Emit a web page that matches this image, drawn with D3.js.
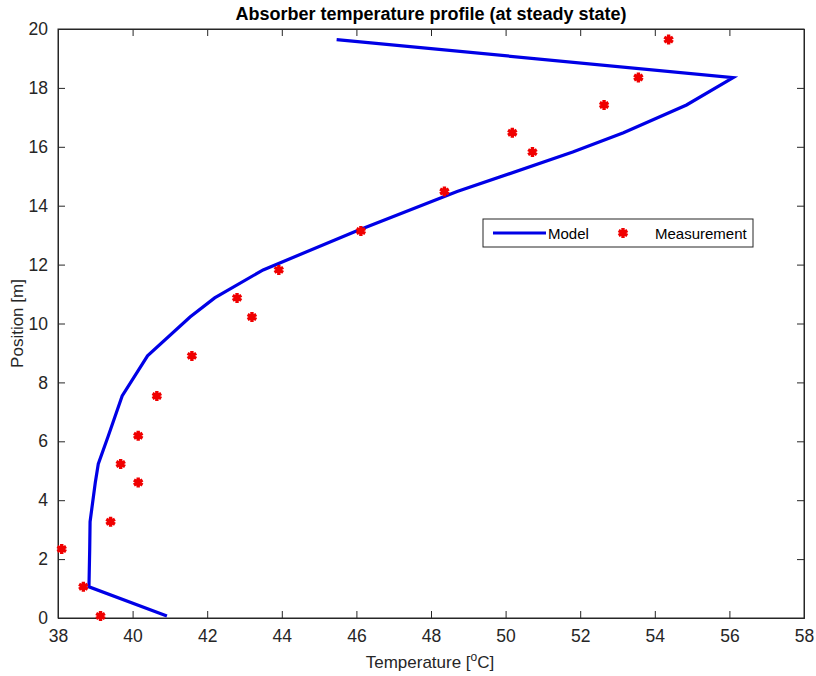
<!DOCTYPE html>
<html><head><meta charset="utf-8">
<script src="https://cdn.jsdelivr.net/npm/d3@7"></script>
<style>body{margin:0;background:#fff}svg{display:block}text{font-family:Arial,"Liberation Sans",Helvetica,sans-serif}</style>
</head><body>
<svg id="c" width="816" height="676"></svg>
<script>
const positions = [0.07,1.06,2.34,3.27,4.6,5.23,6.19,7.54,8.9,10.22,10.87,11.82,13.14,14.48,15.82,16.48,17.42,18.35,19.64];
const modelTemp = [40.92,38.83,38.85,38.86,39.0,39.08,39.35,39.72,40.4,41.54,42.2,43.5,46.0,48.7,51.8,53.16,54.85,56.1,45.47];
const measTemp = [39.14,38.68,38.1,39.41,40.15,39.68,40.15,40.65,41.59,43.2,42.8,43.92,46.12,48.36,50.72,50.18,52.64,53.56,54.37];
const xTicks = [38,40,42,44,46,48,50,52,54,56,58];
const yTicks = [0,2,4,6,8,10,12,14,16,18,20];
const seriesNames = ["Model","Measurement"];

const svg = d3.select("#c");
const L=58,R=804,T=29,B=618;
const x = d3.scaleLinear().domain([38,58]).range([L,R]);
const y = d3.scaleLinear().domain([0,20]).range([B,T]);
const axisCol="#262626";

svg.append("rect").attr("x",L).attr("y",T).attr("width",R-L).attr("height",B-T)
  .attr("fill","none").attr("stroke",axisCol).attr("stroke-width",1);

const ax = svg.append("g").attr("transform",`translate(0,${B})`)
  .call(d3.axisBottom(x).tickValues(xTicks).tickSize(-7).tickPadding(12).tickFormat(d3.format("d")));
const ay = svg.append("g").attr("transform",`translate(${L},0)`)
  .call(d3.axisLeft(y).tickValues(yTicks).tickSize(-7).tickPadding(10).tickFormat(d3.format("d")));
const axT = svg.append("g").attr("transform",`translate(0,${T})`)
  .call(d3.axisTop(x).tickValues(xTicks).tickSize(-7).tickFormat(""));
const ayR = svg.append("g").attr("transform",`translate(${R},0)`)
  .call(d3.axisRight(y).tickValues(yTicks).tickSize(-7).tickFormat(""));
[ax,ay,axT,ayR].forEach(g=>{
  g.select(".domain").attr("stroke",axisCol);
  g.selectAll(".tick line").attr("stroke",axisCol);
  g.selectAll(".tick text").attr("fill",axisCol).attr("font-size",17.5).attr("font-family","Arial,'Liberation Sans',sans-serif");
});

const modelData = positions.map((p,i)=>({p,t:modelTemp[i]}));
svg.append("path").datum(modelData)
  .attr("fill","none").attr("stroke","#0000e6").attr("stroke-width",3.2).attr("stroke-linejoin","miter")
  .attr("d",d3.line().x(d=>x(d.t)).y(d=>y(d.p)));

const sym = d3.symbol().type(d3.symbolAsterisk).size(70);
const measData = positions.map((p,i)=>({p,t:measTemp[i]}));
svg.append("g").selectAll("path").data(measData).join("path")
  .attr("transform",d=>`translate(${x(d.t)},${y(d.p)})`)
  .attr("d",sym).attr("fill","none").attr("stroke","#f00000").attr("stroke-width",3.4);
svg.append("g").selectAll("circle").data(measData).join("circle")
  .attr("cx",d=>x(d.t)).attr("cy",d=>y(d.p)).attr("r",3.2).attr("fill","#f00000");

svg.append("text").attr("x",431).attr("y",20).attr("text-anchor","middle")
  .attr("font-size",18).attr("font-weight","bold").attr("fill","#000")
  .text("Absorber temperature profile (at steady state)");

const xl = svg.append("text").attr("x",430).attr("y",668).attr("text-anchor","middle")
  .attr("font-size",17).attr("fill",axisCol);
xl.append("tspan").text("Temperature [");
xl.append("tspan").attr("dy",-7).attr("font-size",12).text("o");
xl.append("tspan").attr("dy",7).text("C]");

svg.append("text").attr("transform",`translate(23,${(T+B)/2}) rotate(-90)`).attr("text-anchor","middle")
  .attr("font-size",17).attr("fill",axisCol).text("Position [m]");

const lg = svg.append("g");
lg.append("rect").attr("x",483).attr("y",219).attr("width",270).attr("height",28)
  .attr("fill","#fff").attr("stroke",axisCol).attr("stroke-width",1);
lg.append("line").attr("x1",493).attr("x2",546).attr("y1",233).attr("y2",233)
  .attr("stroke","#0000e6").attr("stroke-width",3.2);
lg.append("text").attr("x",548).attr("y",238.5).attr("font-size",15).attr("fill","#000").text(seriesNames[0]);
lg.append("path").attr("transform","translate(623,233)").attr("d",sym)
  .attr("fill","none").attr("stroke","#f00000").attr("stroke-width",3.4);
lg.append("circle").attr("cx",623).attr("cy",233).attr("r",3.2).attr("fill","#f00000");
lg.append("text").attr("x",655).attr("y",238.5).attr("font-size",15).attr("fill","#000").text(seriesNames[1]);
</script>
</body></html>
